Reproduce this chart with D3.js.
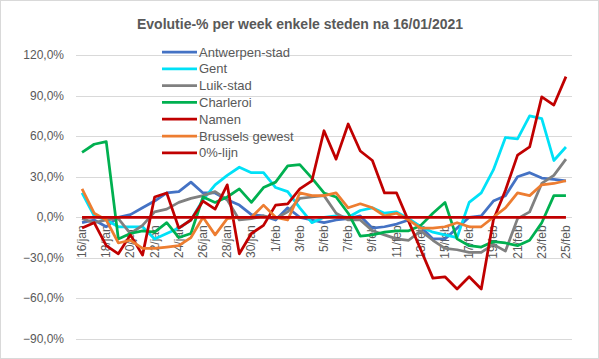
<!DOCTYPE html>
<html>
<head>
<meta charset="utf-8">
<script src="https://cdn.jsdelivr.net/npm/d3@7"></script>
<style>
  body { margin: 0; background: #fff; }
  text { font-family: "Liberation Sans", Arial, sans-serif; fill: #595959; }
</style>
</head>
<body>
<script>
const width = 599
const height = 359

const dates = [
  "16/jan", "17/jan", "18/jan", "19/jan", "20/jan", "21/jan", "22/jan", "23/jan",
  "24/jan", "25/jan", "26/jan", "27/jan", "28/jan", "29/jan", "30/jan", "31/jan",
  "1/feb", "2/feb", "3/feb", "4/feb", "5/feb", "6/feb", "7/feb", "8/feb", "9/feb",
  "10/feb", "11/feb", "12/feb", "13/feb", "14/feb", "15/feb", "16/feb", "17/feb",
  "18/feb", "19/feb", "20/feb", "21/feb", "22/feb", "23/feb", "24/feb", "25/feb"
]

const antwerpen = [-4, -2, -7, 0, 2, 7, 12, 18, 19, 26, 18, 18, 13, 9, 2, 1, -2, 7, 0, -2, -4, -2, -1, 1, -8,
  -7, -5, -2, -7, -16, -16, -8, 0, 1, 12, 16, 30, 33, 29, 28, 27]
const gent = [18, 1, -2, -7, -7, -7, -16, -12, -8, -2, 13, 24, 31, 37, 33, 33, 22, 19, 7, -4, 0, 1, 0, 5, 7,
  3, 4, -1, -7, -11, -13, -15, 11, 18, 35, 59, 58, 75, 73, 42, 52]
const luik = [-1, -4, -2, -1, -12, -6, 4, 6, 11, 14, 16, 19, 13, -2, -1, 1, -1, 4, 14, 15, 16, 3, -2, -2, -10,
  -13, -16, -17, -10, -17, -23, -24, -26, -26, -20, -25, -1, 4, 25, 31, 43]
const charleroi = [48, 54, 56, -16, -12, -10, -11, -4, -15, -12, 15, 11, 15, 21, 11, 22, 26, 38, 39, 29, 18, 15, 3, -14, -13,
  -11, -10, -10, -6, 3, 11, -16, -21, -22, -18, -19, -21, -17, -4, 16, 16]
const namen = [-8, -4, -21, -27, -13, -28, 15, 18, -8, -2, 12, 6, 24, -27, -12, -6, 9, 10, 21, 27, 64, 43, 69, 49, 42,
  18, 18, -3, -24, -45, -44, -53, -44, -53, -2, 20, 46, 52, 89, 83, 104]
const brussels = [21, 3, -2, -19, -17, -23, -23, -22, -21, -15, 0, -13, -1, 0, 0, 9, 0, -2, 18, 16, 16, 18, 7, 10, 7,
  1, 3, -2, -8, -8, -7, -4, -7, -7, 0, 7, 18, 16, 24, 25, 27]
const nullijn = dates.map(() => 0)

const yTicks = [-90, -60, -30, 0, 30, 60, 90, 120]

const series = [
  { name: "Antwerpen-stad", values: antwerpen, color: "#4472C4" },
  { name: "Gent", values: gent, color: "#00E1F7" },
  { name: "Luik-stad", values: luik, color: "#808080" },
  { name: "Charleroi", values: charleroi, color: "#00B050" },
  { name: "Namen", values: namen, color: "#C00000" },
  { name: "Brussels gewest", values: brussels, color: "#ED7D31" },
  { name: "0%-lijn", values: nullijn, color: "#C00000" },
]

const svg = d3.select("body").append("svg")
  .attr("width", width)
  .attr("height", height)

// chart border
svg.append("rect")
  .attr("x", 0.5).attr("y", 0.5)
  .attr("width", width - 1).attr("height", height - 1)
  .attr("fill", "#fff").attr("stroke", "#D9D9D9")

const x = d3.scalePoint().domain(dates).range([76, 572]).padding(0.5)
const y = d3.scaleLinear().domain([-90, 120]).range([339, 55])

const pct = d3.formatLocale({ decimal: ",", thousands: ".", grouping: [3], currency: ["€", ""] }).format(".1f")

// gridlines
svg.append("g")
  .selectAll("line")
  .data(yTicks)
  .join("line")
  .attr("x1", 76).attr("x2", 572)
  .attr("y1", d => Math.round(y(d)) + 0.5)
  .attr("y2", d => Math.round(y(d)) + 0.5)
  .attr("stroke", "#D9D9D9")

// y labels
svg.append("g")
  .selectAll("text")
  .data(yTicks)
  .join("text")
  .attr("x", 64)
  .attr("y", d => y(d) + 4)
  .attr("text-anchor", "end")
  .style("font-size", "12px")
  .text(d => pct(d) + "%")

// x labels, every other date, next to the 0 axis
svg.append("g")
  .selectAll("text")
  .data(dates.filter((d, i) => i % 2 === 0))
  .join("text")
  .attr("transform", d => `translate(${x(d) + 4},${y(0) + 8}) rotate(-90)`)
  .attr("text-anchor", "end")
  .style("font-size", "12px")
  .text(d => d)

const line = d3.line()
  .x((d, i) => x(dates[i]))
  .y(d => y(d))

svg.append("g")
  .selectAll("path")
  .data(series)
  .join("path")
  .attr("d", d => line(d.values))
  .attr("fill", "none")
  .attr("stroke", d => d.color)
  .attr("stroke-width", 2.75)
  .attr("stroke-linejoin", "round")

// title
svg.append("text")
  .attr("x", 300)
  .attr("y", 29)
  .attr("text-anchor", "middle")
  .style("font-size", "14px")
  .style("font-weight", "bold")
  .text("Evolutie-% per week enkele steden na 16/01/2021")

// legend
const legend = svg.append("g")
  .selectAll("g")
  .data(series)
  .join("g")
  .attr("transform", (d, i) => `translate(162,${52 + i * 16.8})`)

legend.append("line")
  .attr("x1", 0).attr("x2", 35)
  .attr("stroke", d => d.color)
  .attr("stroke-width", 2.75)

legend.append("text")
  .attr("x", 37)
  .attr("y", 4.5)
  .style("font-size", "13px")
  .text(d => d.name)
</script>
</body>
</html>
